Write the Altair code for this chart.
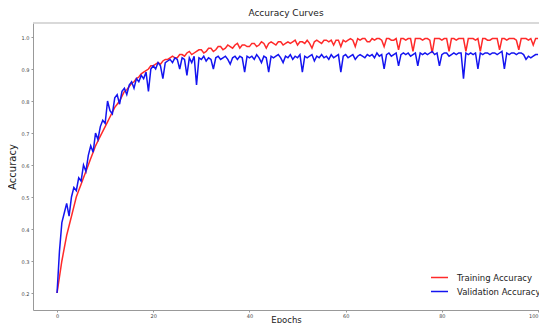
import altair as alt
import pandas as pd

# epochs sampled every half epoch
epochs = [i * 0.5 for i in range(201)]

train_acc = [
    0.20, 0.25, 0.30, 0.34, 0.38, 0.41, 0.44, 0.47, 0.50, 0.52,
    0.54, 0.56, 0.58, 0.60, 0.62, 0.64, 0.66, 0.675, 0.69, 0.705,
    0.72, 0.735, 0.75, 0.765, 0.78, 0.79, 0.80, 0.815, 0.83, 0.835,
    0.845, 0.855, 0.86, 0.87, 0.875, 0.885, 0.89, 0.895, 0.90, 0.91,
    0.91, 0.915, 0.92, 0.915, 0.925, 0.93, 0.93, 0.935, 0.94, 0.935,
    0.935, 0.945, 0.945, 0.94, 0.95, 0.955, 0.945, 0.95, 0.955, 0.96,
    0.96, 0.95, 0.955, 0.965, 0.965, 0.955, 0.96, 0.97, 0.97, 0.96,
    0.965, 0.975, 0.97, 0.965, 0.975, 0.98, 0.965, 0.975, 0.975, 0.97,
    0.97, 0.98, 0.98, 0.97, 0.975, 0.985, 0.98, 0.965, 0.98, 0.985,
    0.98, 0.975, 0.985, 0.985, 0.975, 0.98, 0.985, 0.98, 0.985, 0.99,
    0.975, 0.985, 0.985, 0.98, 0.99, 0.98, 0.965, 0.985, 0.99, 0.985,
    0.98, 0.99, 0.99, 0.985, 0.99, 0.975, 0.99, 0.99, 0.97, 0.99,
    0.985, 0.99, 0.995, 0.99, 0.97, 0.995, 0.99, 0.995, 0.995, 0.985,
    0.985, 0.995, 0.99, 0.995, 0.995, 0.99, 0.97, 0.995, 0.995, 0.99,
    0.99, 0.995, 0.96, 0.995, 0.995, 0.99, 0.995, 0.995, 0.955, 0.995,
    0.995, 0.995, 0.99, 0.995, 0.995, 0.99, 0.95, 0.995, 0.995, 0.995,
    0.99, 0.995, 0.995, 0.955, 0.995, 0.995, 0.99, 0.995, 0.995, 0.995,
    0.955, 0.995, 0.995, 0.995, 0.99, 0.995, 0.955, 0.995, 0.995, 0.99,
    0.99, 0.995, 0.995, 0.995, 0.96, 0.995, 0.995, 0.99, 0.995, 0.995,
    0.995, 0.99, 0.96, 0.995, 0.995, 0.995, 0.99, 0.995, 0.975, 0.995,
    0.995,
]

val_acc = [
    0.20, 0.33, 0.42, 0.45, 0.48, 0.44, 0.50, 0.53, 0.52, 0.56,
    0.55, 0.60, 0.58, 0.63, 0.66, 0.64, 0.70, 0.68, 0.72, 0.74,
    0.73, 0.80, 0.77, 0.76, 0.81, 0.82, 0.79, 0.83, 0.84, 0.82,
    0.85, 0.86, 0.84, 0.87, 0.86, 0.88, 0.87, 0.89, 0.83, 0.90,
    0.91, 0.90, 0.92, 0.91, 0.87, 0.92, 0.925, 0.93, 0.92, 0.935,
    0.93, 0.90, 0.935, 0.93, 0.88, 0.935, 0.92, 0.94, 0.85, 0.935,
    0.93, 0.94, 0.925, 0.935, 0.93, 0.90, 0.935, 0.94, 0.93, 0.935,
    0.94, 0.93, 0.915, 0.935, 0.94, 0.93, 0.94, 0.935, 0.89, 0.94,
    0.935, 0.94, 0.93, 0.945, 0.935, 0.92, 0.94, 0.935, 0.89, 0.94,
    0.935, 0.94, 0.945, 0.935, 0.92, 0.94, 0.935, 0.945, 0.93, 0.94,
    0.935, 0.945, 0.89, 0.94, 0.935, 0.94, 0.945, 0.925, 0.94, 0.935,
    0.945, 0.935, 0.94, 0.93, 0.945, 0.935, 0.94, 0.945, 0.89, 0.94,
    0.945, 0.935, 0.94, 0.945, 0.93, 0.94, 0.945, 0.94, 0.935, 0.945,
    0.94, 0.945, 0.935, 0.95, 0.94, 0.945, 0.90, 0.945, 0.95, 0.94,
    0.945, 0.95, 0.91, 0.945, 0.95, 0.945, 0.95, 0.94, 0.945, 0.95,
    0.91, 0.95, 0.945, 0.95, 0.945, 0.95, 0.955, 0.945, 0.95, 0.91,
    0.945, 0.95, 0.95, 0.94, 0.945, 0.95, 0.945, 0.95, 0.95, 0.87,
    0.95, 0.945, 0.95, 0.945, 0.95, 0.90, 0.95, 0.945, 0.95, 0.95,
    0.945, 0.95, 0.95, 0.945, 0.95, 0.955, 0.90, 0.95, 0.945, 0.95,
    0.95, 0.945, 0.95, 0.95, 0.945, 0.93, 0.94, 0.935, 0.94, 0.945,
    0.945,
]

series_names = ["Training Accuracy", "Validation Accuracy"]
series_colors = ["#ff2a2a", "#1414f0"]
x_ticks = [0, 20, 40, 60, 80, 100]
y_ticks = [0.2, 0.3, 0.4, 0.5, 0.6, 0.7, 0.8, 0.9, 1.0]

df = pd.DataFrame({
    "Epoch": epochs + epochs,
    "Accuracy": train_acc + val_acc,
    "Series": [series_names[0]] * len(train_acc) + [series_names[1]] * len(val_acc),
})

W, H = 506, 287
FONT = "DejaVu Sans"

lines = alt.Chart(df).mark_line(strokeWidth=1.5, clip=True).encode(
    x=alt.X("Epoch:Q",
            scale=alt.Scale(domain=[-5, 100.2], nice=False, zero=False),
            axis=alt.Axis(values=x_ticks, title="Epochs", format="d",
                          titleFontSize=8.5, titleY=12, titleBaseline="alphabetic",
                          labelPadding=1)),
    y=alt.Y("Accuracy:Q",
            scale=alt.Scale(domain=[0.146875, 1.04375], nice=False, zero=False),
            axis=alt.Axis(values=y_ticks, title="Accuracy", format=".1f",
                          titleFontSize=10, titlePadding=4, labelPadding=2)),
    color=alt.Color("Series:N",
                    scale=alt.Scale(domain=series_names, range=series_colors),
                    legend=alt.Legend(title=None, orient="none", legendX=397, legendY=245,
                                      symbolType="stroke", symbolSize=289,
                                      symbolStrokeWidth=1.5, labelFontSize=8.5,
                                      labelOffset=8, rowPadding=0, labelFont=FONT,
                                      labelColor="#222")),
)

top_border = alt.Chart(pd.DataFrame({"a": [0]})).mark_rule(color="#cccccc", strokeWidth=1.5).encode(
    x=alt.value(0), x2=alt.value(W), y=alt.value(0)
)

chart = alt.layer(lines, top_border).properties(
    width=W, height=H,
    title=alt.TitleParams("Accuracy Curves", fontSize=9, fontWeight="normal",
                          font=FONT, color="#222", offset=4),
    autosize=alt.AutoSizeParams(type="none"),
    padding={"left": 25, "top": 15, "right": 0, "bottom": 13},
).configure_view(stroke=None).configure_axis(
    grid=False, domainColor="#999999", tickColor="#999999", tickSize=2,
    labelFontSize=5, labelColor="#444444", labelFont=FONT,
    titleFont=FONT, titleFontWeight="normal", titleColor="#222222",
)

chart.save("out.html", embed_options={"renderer": "svg", "actions": False})
